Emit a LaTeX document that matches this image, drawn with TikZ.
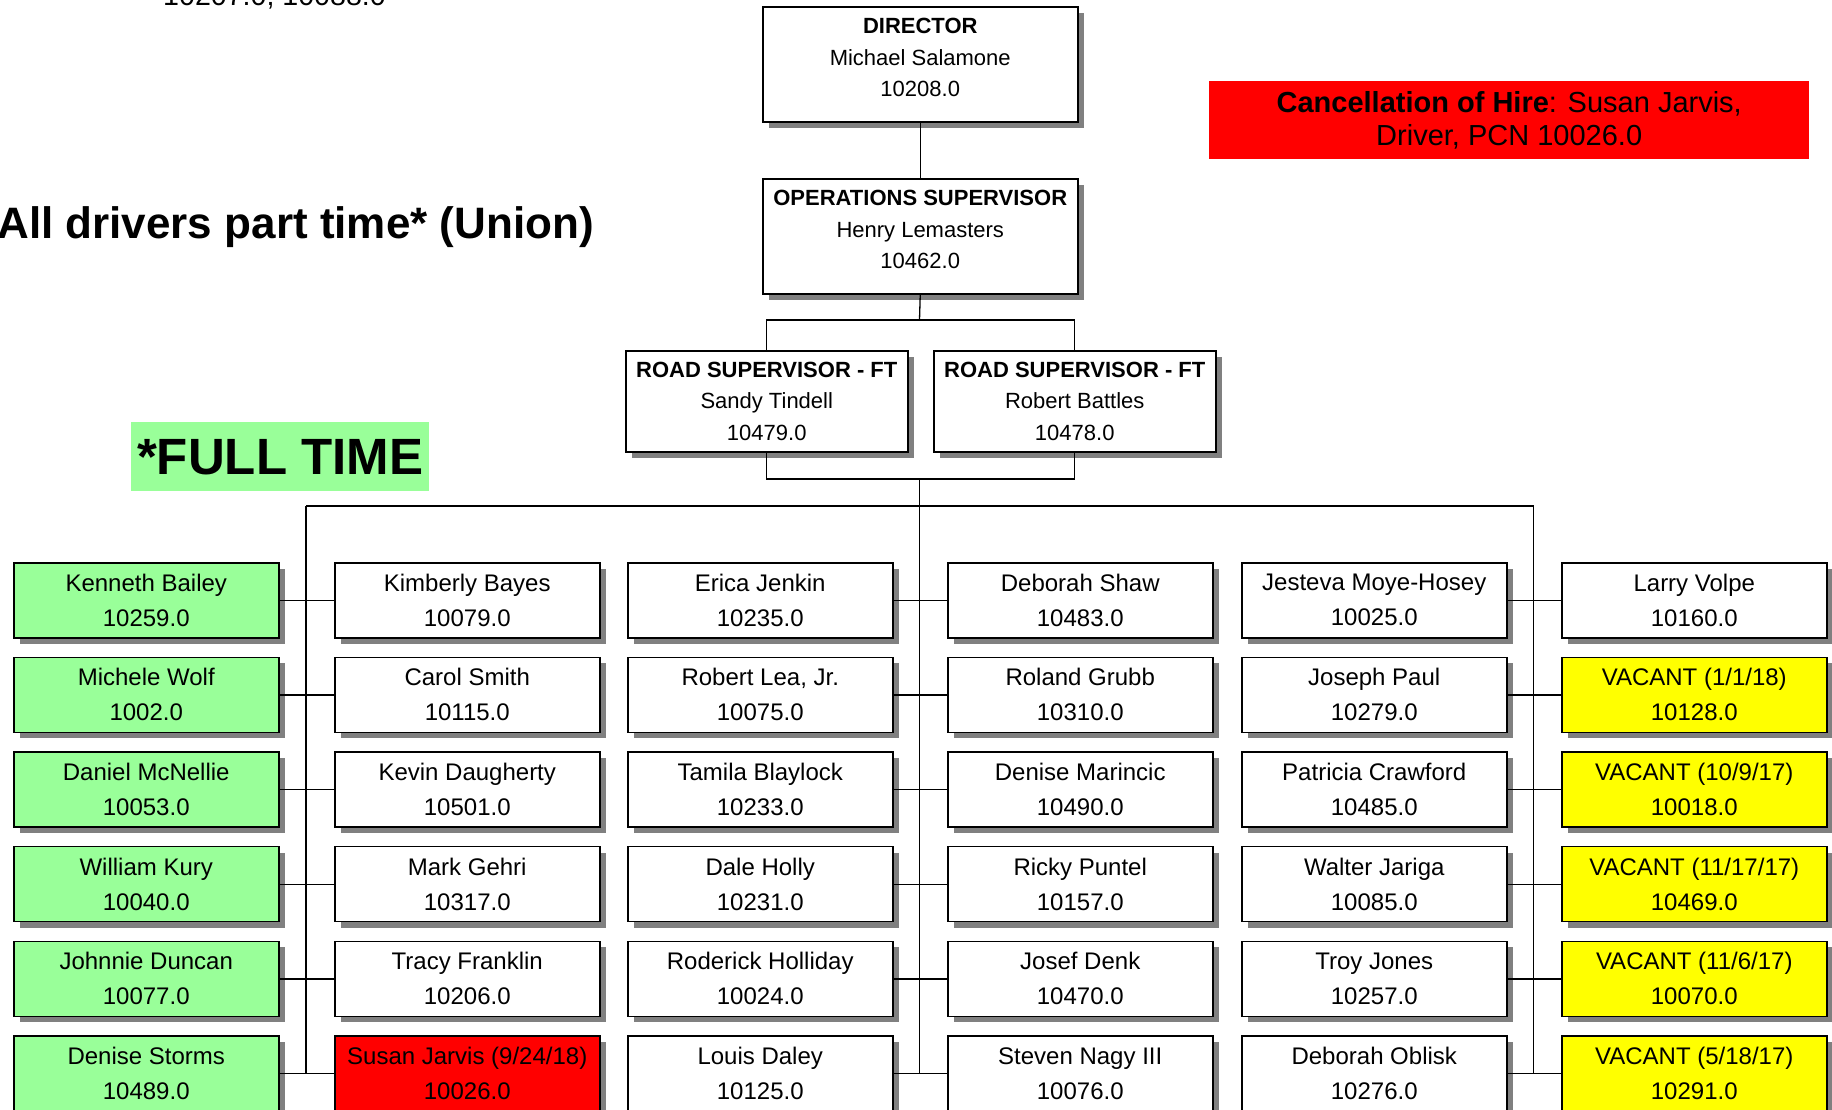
\documentclass[tikz,border=0pt]{standalone}
\usepackage{fontspec}
\setmainfont{Liberation Sans}
\usetikzlibrary{shadows}
\definecolor{ftgreen}{HTML}{99FF99}
\definecolor{cancred}{HTML}{FF0000}
\definecolor{vacyellow}{HTML}{FFFF00}
\definecolor{shadowgray}{HTML}{808080}
\begin{document}
\begin{tikzpicture}[x=1pt,y=-1pt,
  boxbase/.style={draw=black, line width=1.5pt, fill=white, rectangle, inner sep=0pt, anchor=north west,
     general shadow={fill=shadowgray, shadow xshift=6pt, shadow yshift=-6pt}},
  supbox/.style={boxbase, minimum width=315pt, minimum height=115pt},
  roadbox/.style={boxbase, minimum width=282pt, minimum height=101pt, align=center, font=\fontsize{22}{31.5}\selectfont},
  suptext/.style={align=center, inner sep=0pt, font=\fontsize{22}{31.5}\selectfont},
  emp/.style={boxbase, minimum width=265pt, minimum height=75pt, align=center, font=\fontsize{24}{35}\selectfont},
  ft/.style={emp, fill=ftgreen},
  vac/.style={emp, fill=vacyellow},
  cancbox/.style={emp, fill=cancred},
  link/.style={draw=black, line width=1.3pt},
]
\useasboundingbox (0,0) rectangle (1832,1109);
\fill[white] (0,0) rectangle (1832,1109);

% free texts
\node[anchor=base west, inner sep=0pt, font=\fontsize{28.6}{32}\selectfont] (topnote) at (163,5) {10207.0, 10088.0};
\node[anchor=base east, inner sep=0pt, font=\fontsize{44}{50}\selectfont\bfseries] (union) at (594,238) {All drivers part time* (Union)};
\node[anchor=north west, fill=ftgreen, minimum width=298pt, minimum height=69pt, inner sep=0pt, font=\fontsize{51}{60}\selectfont\bfseries] (fulltime) at (131,422) {*FULL TIME};
\node[anchor=north west, fill=cancred, minimum width=600pt, minimum height=78pt, inner sep=0pt, align=center, font=\fontsize{29}{32.7}\selectfont] (cancel) at (1209,81) {\textbf{Cancellation of Hire}: Susan Jarvis,\\Driver, PCN 10026.0};

% supervisors
\node[supbox] (dir) at (762,6) {};
\node[suptext] (dirt) at ([yshift=6.5pt]dir.center) {\textbf{DIRECTOR}\\Michael Salamone\\10208.0};
\node[supbox] (ops) at (762,178) {};
\node[suptext] (opst) at ([yshift=6.5pt]ops.center) {\textbf{OPERATIONS SUPERVISOR}\\Henry Lemasters\\10462.0};
\node[roadbox] (rs1) at (625,350) {\textbf{ROAD SUPERVISOR - FT}\\Sandy Tindell\\10479.0};
\node[roadbox] (rs2) at (933,350) {\textbf{ROAD SUPERVISOR - FT}\\Robert Battles\\10478.0};

% row 1
\node[ft]  (e11) at (13,562)   {Kenneth Bailey\\10259.0};
\node[emp] (e12) at (334,562)  {Kimberly Bayes\\10079.0};
\node[emp] (e13) at (627,562)  {Erica Jenkin\\10235.0};
\node[emp] (e14) at (947,562)  {Deborah Shaw\\10483.0};
\node[emp] (e15) at (1241,562) {Jesteva Moye-Hosey\\10025.0};
\node[emp] (e16) at (1561,562) {Larry Volpe\\10160.0};
% row 2
\node[ft]  (e21) at (13,656.6)   {Michele Wolf\\1002.0};
\node[emp] (e22) at (334,656.6)  {Carol Smith\\10115.0};
\node[emp] (e23) at (627,656.6)  {Robert Lea, Jr.\\10075.0};
\node[emp] (e24) at (947,656.6)  {Roland Grubb\\10310.0};
\node[emp] (e25) at (1241,656.6) {Joseph Paul\\10279.0};
\node[vac] (e26) at (1561,656.6) {VACANT (1/1/18)\\10128.0};
% row 3
\node[ft]  (e31) at (13,751.3)   {Daniel McNellie\\10053.0};
\node[emp] (e32) at (334,751.3)  {Kevin Daugherty\\10501.0};
\node[emp] (e33) at (627,751.3)  {Tamila Blaylock\\10233.0};
\node[emp] (e34) at (947,751.3)  {Denise Marincic\\10490.0};
\node[emp] (e35) at (1241,751.3) {Patricia Crawford\\10485.0};
\node[vac] (e36) at (1561,751.3) {VACANT (10/9/17)\\10018.0};
% row 4
\node[ft]  (e41) at (13,845.9)   {William Kury\\10040.0};
\node[emp] (e42) at (334,845.9)  {Mark Gehri\\10317.0};
\node[emp] (e43) at (627,845.9)  {Dale Holly\\10231.0};
\node[emp] (e44) at (947,845.9)  {Ricky Puntel\\10157.0};
\node[emp] (e45) at (1241,845.9) {Walter Jariga\\10085.0};
\node[vac] (e46) at (1561,845.9) {VACANT (11/17/17)\\10469.0};
% row 5
\node[ft]  (e51) at (13,940.6)   {Johnnie Duncan\\10077.0};
\node[emp] (e52) at (334,940.6)  {Tracy Franklin\\10206.0};
\node[emp] (e53) at (627,940.6)  {Roderick Holliday\\10024.0};
\node[emp] (e54) at (947,940.6)  {Josef Denk\\10470.0};
\node[emp] (e55) at (1241,940.6) {Troy Jones\\10257.0};
\node[vac] (e56) at (1561,940.6) {VACANT (11/6/17)\\10070.0};
% row 6
\node[ft]  (e61) at (13,1035.2)   {Denise Storms\\10489.0};
\node[cancbox] (e62) at (334,1035.2)  {Susan Jarvis (9/24/18)\\10026.0};
\node[emp] (e63) at (627,1035.2)  {Louis Daley\\10125.0};
\node[emp] (e64) at (947,1035.2)  {Steven Nagy III\\10076.0};
\node[emp] (e65) at (1241,1035.2) {Deborah Oblisk\\10276.0};
\node[vac] (e66) at (1561,1035.2) {VACANT (5/18/17)\\10291.0};

% connectors: top of chart
\coordinate (ojoin) at (919.5,320);
\coordinate (rjoin) at (919.5,479);
\coordinate (busL) at (306,506);
\coordinate (busR) at (1533.5,506);
\draw[link] (dir.south) -- (ops.north);
\draw[link] (ops.south) -- (ojoin);
\draw[link] (rs1.north) |- (ojoin) -| (rs2.north);
\draw[link] (rs1.south) |- (rjoin) -| (rs2.south);
\draw[link] (busL) -- (busR);
\draw[link] (busL) -- (busL |- e61.east);
\draw[link] (rjoin) -- (rjoin |- e63.east);
\draw[link] (busR) -- (busR |- e65.east);

% row connectors
\foreach \r in {1,...,6}{
  \draw[link] (e\r1.east) -- (e\r2.west);
  \draw[link] (e\r3.east) -- (e\r4.west);
  \draw[link] (e\r5.east) -- (e\r6.west);
}
\end{tikzpicture}
\end{document}
